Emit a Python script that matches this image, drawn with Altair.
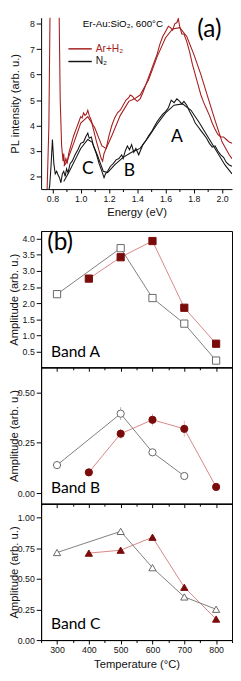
import altair as alt
import pandas as pd

# ---------------- data: panel (a) PL spectra (energy eV, intensity arb. u.)
ar_spectrum = [
    (0.760, 1.0), (0.775, 4.0), (0.785, 9.5), (0.845, 9.5), (0.855, 5.0), (0.865, 3.2),
    (0.875, 2.6), (0.880, 2.9), (0.885, 2.45), (0.895, 2.7), (0.905, 2.55), (0.915, 2.9),
    (0.930, 3.2), (0.950, 3.6), (0.970, 3.9), (0.990, 4.2), (1.000, 4.35), (1.010, 4.3),
    (1.020, 4.5), (1.030, 4.4), (1.040, 4.45), (1.050, 4.6), (1.060, 4.4), (1.075, 4.2),
    (1.090, 3.85), (1.110, 3.4), (1.130, 3.0), (1.145, 2.7), (1.155, 2.6), (1.165, 2.9),
    (1.180, 3.1), (1.200, 3.6), (1.220, 4.0), (1.240, 4.3), (1.260, 4.5), (1.280, 4.6),
    (1.300, 4.8), (1.320, 5.0), (1.340, 5.1), (1.350, 5.2), (1.365, 5.15), (1.380, 5.05),
    (1.400, 4.95), (1.420, 5.05), (1.440, 5.3), (1.460, 5.6), (1.480, 5.9), (1.500, 6.2),
    (1.520, 6.5), (1.540, 6.8), (1.560, 7.2), (1.580, 7.5), (1.600, 7.7), (1.620, 7.9),
    (1.635, 7.85), (1.650, 7.75), (1.665, 8.0), (1.680, 8.05), (1.690, 8.2), (1.700, 7.9),
    (1.715, 7.6), (1.730, 7.6), (1.750, 7.3), (1.770, 6.9), (1.790, 6.4), (1.810, 6.0),
    (1.830, 5.6), (1.850, 5.2), (1.870, 4.9), (1.890, 4.65), (1.910, 4.4), (1.930, 4.1),
    (1.950, 3.85), (1.970, 3.65), (1.990, 3.55), (2.010, 3.55), (2.030, 3.45), (2.050, 3.35),
    (2.070, 3.3),
]
n2_spectrum = [
    (0.765, 1.2), (0.780, 1.6), (0.790, 2.4), (0.800, 3.45), (0.810, 2.5), (0.820, 2.1),
    (0.830, 2.2), (0.840, 2.05), (0.850, 1.95), (0.860, 1.75), (0.870, 2.1), (0.880, 2.2),
    (0.890, 2.0), (0.900, 2.3), (0.910, 2.15), (0.925, 2.5), (0.940, 2.6), (0.960, 2.85),
    (0.980, 3.05), (1.000, 3.3), (1.020, 3.35), (1.035, 3.55), (1.050, 3.7), (1.060, 3.5),
    (1.075, 3.55), (1.090, 3.2), (1.110, 2.9), (1.130, 2.5), (1.150, 2.2), (1.165, 1.95),
    (1.175, 2.1), (1.190, 2.2), (1.210, 2.4), (1.230, 2.5), (1.250, 2.65), (1.270, 2.7),
    (1.290, 2.85), (1.300, 2.7), (1.315, 3.0), (1.330, 3.2), (1.345, 3.05), (1.360, 3.25),
    (1.375, 2.95), (1.390, 3.1), (1.410, 2.85), (1.425, 3.05), (1.440, 3.25), (1.460, 3.4),
    (1.480, 3.6), (1.500, 3.75), (1.520, 3.95), (1.540, 4.15), (1.560, 4.3), (1.580, 4.45),
    (1.600, 4.55), (1.620, 4.7), (1.640, 5.0), (1.660, 4.9), (1.680, 5.05), (1.700, 4.95),
    (1.715, 4.85), (1.730, 4.95), (1.750, 4.8), (1.770, 4.55), (1.790, 4.35), (1.810, 4.1),
    (1.830, 3.95), (1.850, 3.8), (1.870, 3.65), (1.890, 3.5), (1.910, 3.3), (1.930, 3.15),
    (1.950, 3.2), (1.970, 3.0), (1.990, 2.85), (2.010, 2.75), (2.030, 2.55), (2.050, 2.45),
    (2.070, 2.4),
]
ar_fit = [
    (0.880, 2.4), (0.900, 2.55), (0.950, 3.3), (1.000, 4.1), (1.050, 4.35), (1.100, 3.9),
    (1.150, 3.2), (1.180, 3.1), (1.220, 3.6), (1.280, 4.4), (1.340, 4.95), (1.380, 5.05),
    (1.420, 5.2), (1.480, 5.8), (1.540, 6.7), (1.600, 7.45), (1.650, 7.8), (1.700, 7.85),
    (1.750, 7.5), (1.800, 6.8), (1.850, 6.0), (1.900, 5.1), (1.950, 4.2), (2.000, 3.35),
    (2.050, 2.85), (2.070, 2.7),
]
n2_fit = [
    (0.880, 1.8), (0.920, 2.2), (0.960, 2.65), (1.000, 3.1), (1.050, 3.45), (1.080, 3.35),
    (1.120, 2.8), (1.160, 2.2), (1.190, 2.15), (1.240, 2.45), (1.300, 2.75), (1.360, 2.95),
    (1.420, 3.1), (1.480, 3.55), (1.540, 4.05), (1.600, 4.5), (1.660, 4.8), (1.720, 4.85),
    (1.780, 4.6), (1.840, 4.1), (1.900, 3.55), (1.960, 3.0), (2.020, 2.45), (2.070, 2.1),
]
series_names = ["Ar+H₂", "N₂"]
energy_ticks = [0.8, 0.9, 1.0, 1.1, 1.2, 1.3, 1.4, 1.5, 1.6, 1.7, 1.8, 1.9, 2.0]
intensity_ticks = [2, 3, 4, 5, 6, 7, 8]

# ---------------- data: panel (b) amplitudes vs annealing temperature
temps_ar = [400, 500, 600, 700, 800]
temps_n2 = [300, 500, 600, 700, 800]
temps_n2_bandB = [300, 500, 600, 700]
bandA_ar = [2.76, 3.42, 3.92, 1.86, 0.75]
bandA_n2 = [2.28, 3.70, 2.16, 1.37, 0.23]
bandB_ar = [0.104, 0.295, 0.364, 0.319, 0.032]
bandB_ar_err = [0.008, 0.025, 0.030, 0.040, 0.006]
bandB_n2 = [0.140, 0.394, 0.203, 0.086]
bandB_n2_err = [0.008, 0.032, 0.010, 0.008]
bandC_ar = [0.711, 0.735, 0.841, 0.432, 0.172]
bandC_n2 = [0.716, 0.889, 0.592, 0.353, 0.252]
temperature_ticks = [250, 300, 350, 400, 450, 500, 550, 600, 650, 700, 750, 800, 850]
bandA_ticks = [0.5, 1.0, 1.5, 2.0, 2.5, 3.0, 3.5, 4.0]
bandB_ticks = [0.0, 0.25, 0.5]
bandC_ticks = [0.0, 0.25, 0.5, 0.75, 1.0]

# ---------------- style
AXF = "Liberation Sans"
ANF = "Lato"
RED = "#a51d1d"
MAROON = "#7a0b0b"
PINK = "#d88585"
GRAY = "#7d7d7d"
W = 196
LABEL_COLOR = alt.ExprRef(expr="datum.value == 'Ar+H₂' ? '#a51d1d' : '#111111'")


def spec_df(pairs, name, kind):
    return pd.DataFrame({"E": [p[0] for p in pairs], "I": [p[1] for p in pairs],
                         "series": name, "kind": kind})


df_spec = pd.concat([spec_df(n2_spectrum, series_names[1], "data"),
                     spec_df(ar_spectrum, series_names[0], "data"),
                     spec_df(n2_fit, series_names[1], "fit"),
                     spec_df(ar_fit, series_names[0], "fit")], ignore_index=True)

even_test = "abs(round(datum.value*10)) % 2 == 0"
x_a = alt.X("E:Q", scale=alt.Scale(domain=[0.72, 2.07], nice=False, zero=False),
            axis=alt.Axis(values=energy_ticks, tickCount=100, title="Energy (eV)", grid=False,
                          labelExpr=f"{even_test} ? format(datum.value, '.1f') : ''",
                          tickSize={"condition": {"test": even_test, "value": 4}, "value": 2.5},
                          labelFlush=False, labelOverlap=False, titlePadding=3))
y_a = alt.Y("I:Q", scale=alt.Scale(domain=[1.5, 8.24], nice=False, zero=False),
            axis=alt.Axis(values=intensity_ticks, tickCount=100, format="d",
                          title="PL intensity (arb. u.)",
                          grid=False, labelOverlap=False, titleX=-26, titleBaseline="middle"))
legend_a = alt.Legend(orient="none", legendX=33, legendY=25, title=None,
                      symbolType="M-2,0H2", symbolSize=144, symbolStrokeWidth=1.5,
                      labelFont=AXF, labelFontSize=10.5, labelColor=LABEL_COLOR,
                      labelOffset=9, rowPadding=0, padding=0)
color_a = alt.Color("series:N", scale=alt.Scale(domain=series_names, range=[RED, "#141414"]),
                    legend=legend_a)

lines_a = alt.Chart(df_spec).mark_line(clip=True, strokeWidth=1.1).encode(
    x=x_a, y=y_a, color=color_a, detail="kind:N")


def note(text, xv, yv, size, font, align="center", color="#000"):
    return alt.Chart(pd.DataFrame({"t": [text]})).mark_text(
        font=font, fontSize=size, align=align, baseline="middle", color=color).encode(
        x=alt.datum(xv), y=alt.datum(yv), text="t:N")


panel_a = alt.layer(
    lines_a,
    note("Er-Au:SiO₂, 600°C", 1.015, 8.0, 10, AXF, align="left"),
    note("(a)", 1.91, 7.78, 25, ANF),
    note("A", 1.68, 3.53, 18, ANF),
    note("B", 1.344, 2.19, 18, ANF),
    note("C", 1.05, 2.30, 18, ANF),
).properties(width=W, height=176, view=alt.ViewBackground(stroke="transparent"))


# ---------------- band panels
def band_panel(values_ar, values_n2, t_n2, shape, symbol_path, y_domain, y_ticks, y_fmt,
               legend_xy, row_pad, band_text, band_y, last=False, err_ar=None, err_n2=None,
               extra=None):
    df = pd.concat([
        pd.DataFrame({"T": temps_ar, "A": values_ar, "series": series_names[0]}),
        pd.DataFrame({"T": t_n2, "A": values_n2, "series": series_names[1]}),
    ], ignore_index=True)
    tick_cond = {"condition": {"test": "datum.value % 100 == 0", "value": 4}, "value": 2.5}
    if last:
        xaxis = alt.Axis(values=temperature_ticks, tickCount=100, title="Temperature (°C)", grid=False,
                         labelExpr="datum.value % 100 == 0 && datum.value >= 300 && datum.value <= 800 ? format(datum.value, 'd') : ''",
                         tickSize=tick_cond, labelFlush=False, labelOverlap=False, titlePadding=4)
    else:
        xaxis = alt.Axis(values=temperature_ticks, tickCount=100, title=None, labels=False,
                         grid=False, tickSize=tick_cond)
    x = alt.X("T:Q", scale=alt.Scale(domain=[250, 850], nice=False, zero=False), axis=xaxis)
    y = alt.Y("A:Q", scale=alt.Scale(domain=y_domain, nice=False, zero=False),
              axis=alt.Axis(values=y_ticks, tickCount=100, format=y_fmt,
                            title="Amplitude (arb. u.)", grid=False,
                            labelOverlap=False, titleX=-27, titleBaseline="middle"))
    leg = alt.Legend(orient="none", legendX=legend_xy[0], legendY=legend_xy[1], title=None,
                     symbolType=symbol_path, symbolSize=144, symbolStrokeWidth=1,
                     labelFont=AXF, labelFontSize=10, labelColor=LABEL_COLOR,
                     labelOffset=8, rowPadding=row_pad, padding=0)
    line_color = alt.Color("series:N", scale=alt.Scale(domain=series_names, range=[PINK, GRAY]),
                           legend=None)
    layers = [alt.Chart(df).mark_line(strokeWidth=1, clip=True).encode(x=x, y=y, color=line_color)]
    if err_ar is not None:
        dfe = pd.concat([
            pd.DataFrame({"T": temps_ar, "lo": [v - e for v, e in zip(values_ar, err_ar)],
                          "hi": [v + e for v, e in zip(values_ar, err_ar)], "series": series_names[0]}),
            pd.DataFrame({"T": t_n2, "lo": [v - e for v, e in zip(values_n2, err_n2)],
                          "hi": [v + e for v, e in zip(values_n2, err_n2)], "series": series_names[1]}),
        ], ignore_index=True)
        layers.append(alt.Chart(dfe).mark_rule(strokeWidth=1, opacity=0.6).encode(
            x="T:Q", y="lo:Q", y2="hi:Q", color=line_color))
    layers.append(alt.Chart(df).mark_point(shape=shape, size=55, strokeWidth=1, opacity=1).encode(
        x=x, y=y,
        fill=alt.Fill("series:N", scale=alt.Scale(domain=series_names, range=[MAROON, "white"]), legend=leg),
        stroke=alt.Stroke("series:N", scale=alt.Scale(domain=series_names, range=[MAROON, "#666666"]), legend=leg)))
    layers.append(note(band_text, 281, band_y, 16, ANF, align="left"))
    if extra is not None:
        layers.append(extra)
    return alt.layer(*layers).properties(
        width=W, height=140, view=alt.ViewBackground(stroke="#000000", strokeWidth=1))


sq = "M-1.8,0H-0.6M0.6,0H1.8M-0.6,-0.6H0.6V0.6H-0.6Z"
circ = "M-1.8,0H-0.6M0.6,0H1.8M0.6,0A0.6,0.6 0 1,1 -0.6,0A0.6,0.6 0 1,1 0.6,0Z"
tri = "M-1.8,0H-0.6M0.6,0H1.8M0,-0.7L0.65,0.5H-0.65Z"

pA = band_panel(bandA_ar, bandA_n2, temps_n2, "square", sq, [0.02, 4.23], bandA_ticks, ".1f",
                (142, 5), 3, "Band A", 0.49, extra=note("(b)", 269, 3.87, 25, ANF, align="left"))
pB = band_panel(bandB_ar, bandB_n2, temps_n2_bandB, "circle", circ, [-0.051, 0.623], bandB_ticks, ".2f",
                (139, 8.6), 3.4, "Band B", 0.027, err_ar=bandB_ar_err, err_n2=bandB_n2_err)
pC = band_panel(bandC_ar, bandC_n2, temps_n2, "triangle-up", tri, [0.0, 1.115], bandC_ticks, ".2f",
                (144, 5.7), 4, "Band C", 0.13, last=True)

res = dict(x="independent", y="independent", color="independent", fill="independent",
           stroke="independent")
inner = alt.vconcat(pA, pB, pC, spacing=0, bounds="flush").resolve_scale(**res).resolve_legend(
    color="independent", fill="independent", stroke="independent")
chart = alt.vconcat(panel_a, inner, spacing=12).resolve_scale(**res).resolve_legend(
    color="independent", fill="independent", stroke="independent")

chart = chart.properties(padding=0, background="white").configure_axis(
    labelFont=AXF, labelFontSize=9, labelColor="#111111", labelPadding=2,
    labelOverlap=False, labelBound=False,
    titleFont=AXF, titleFontSize=11.5, titleFontWeight="normal", titleColor="#111111",
    tickColor="#000000", domainColor="#000000", tickWidth=1, domainWidth=1,
).configure_legend(labelLimit=200)

chart.save("out.html", embed_options={"renderer": "svg", "actions": False})
